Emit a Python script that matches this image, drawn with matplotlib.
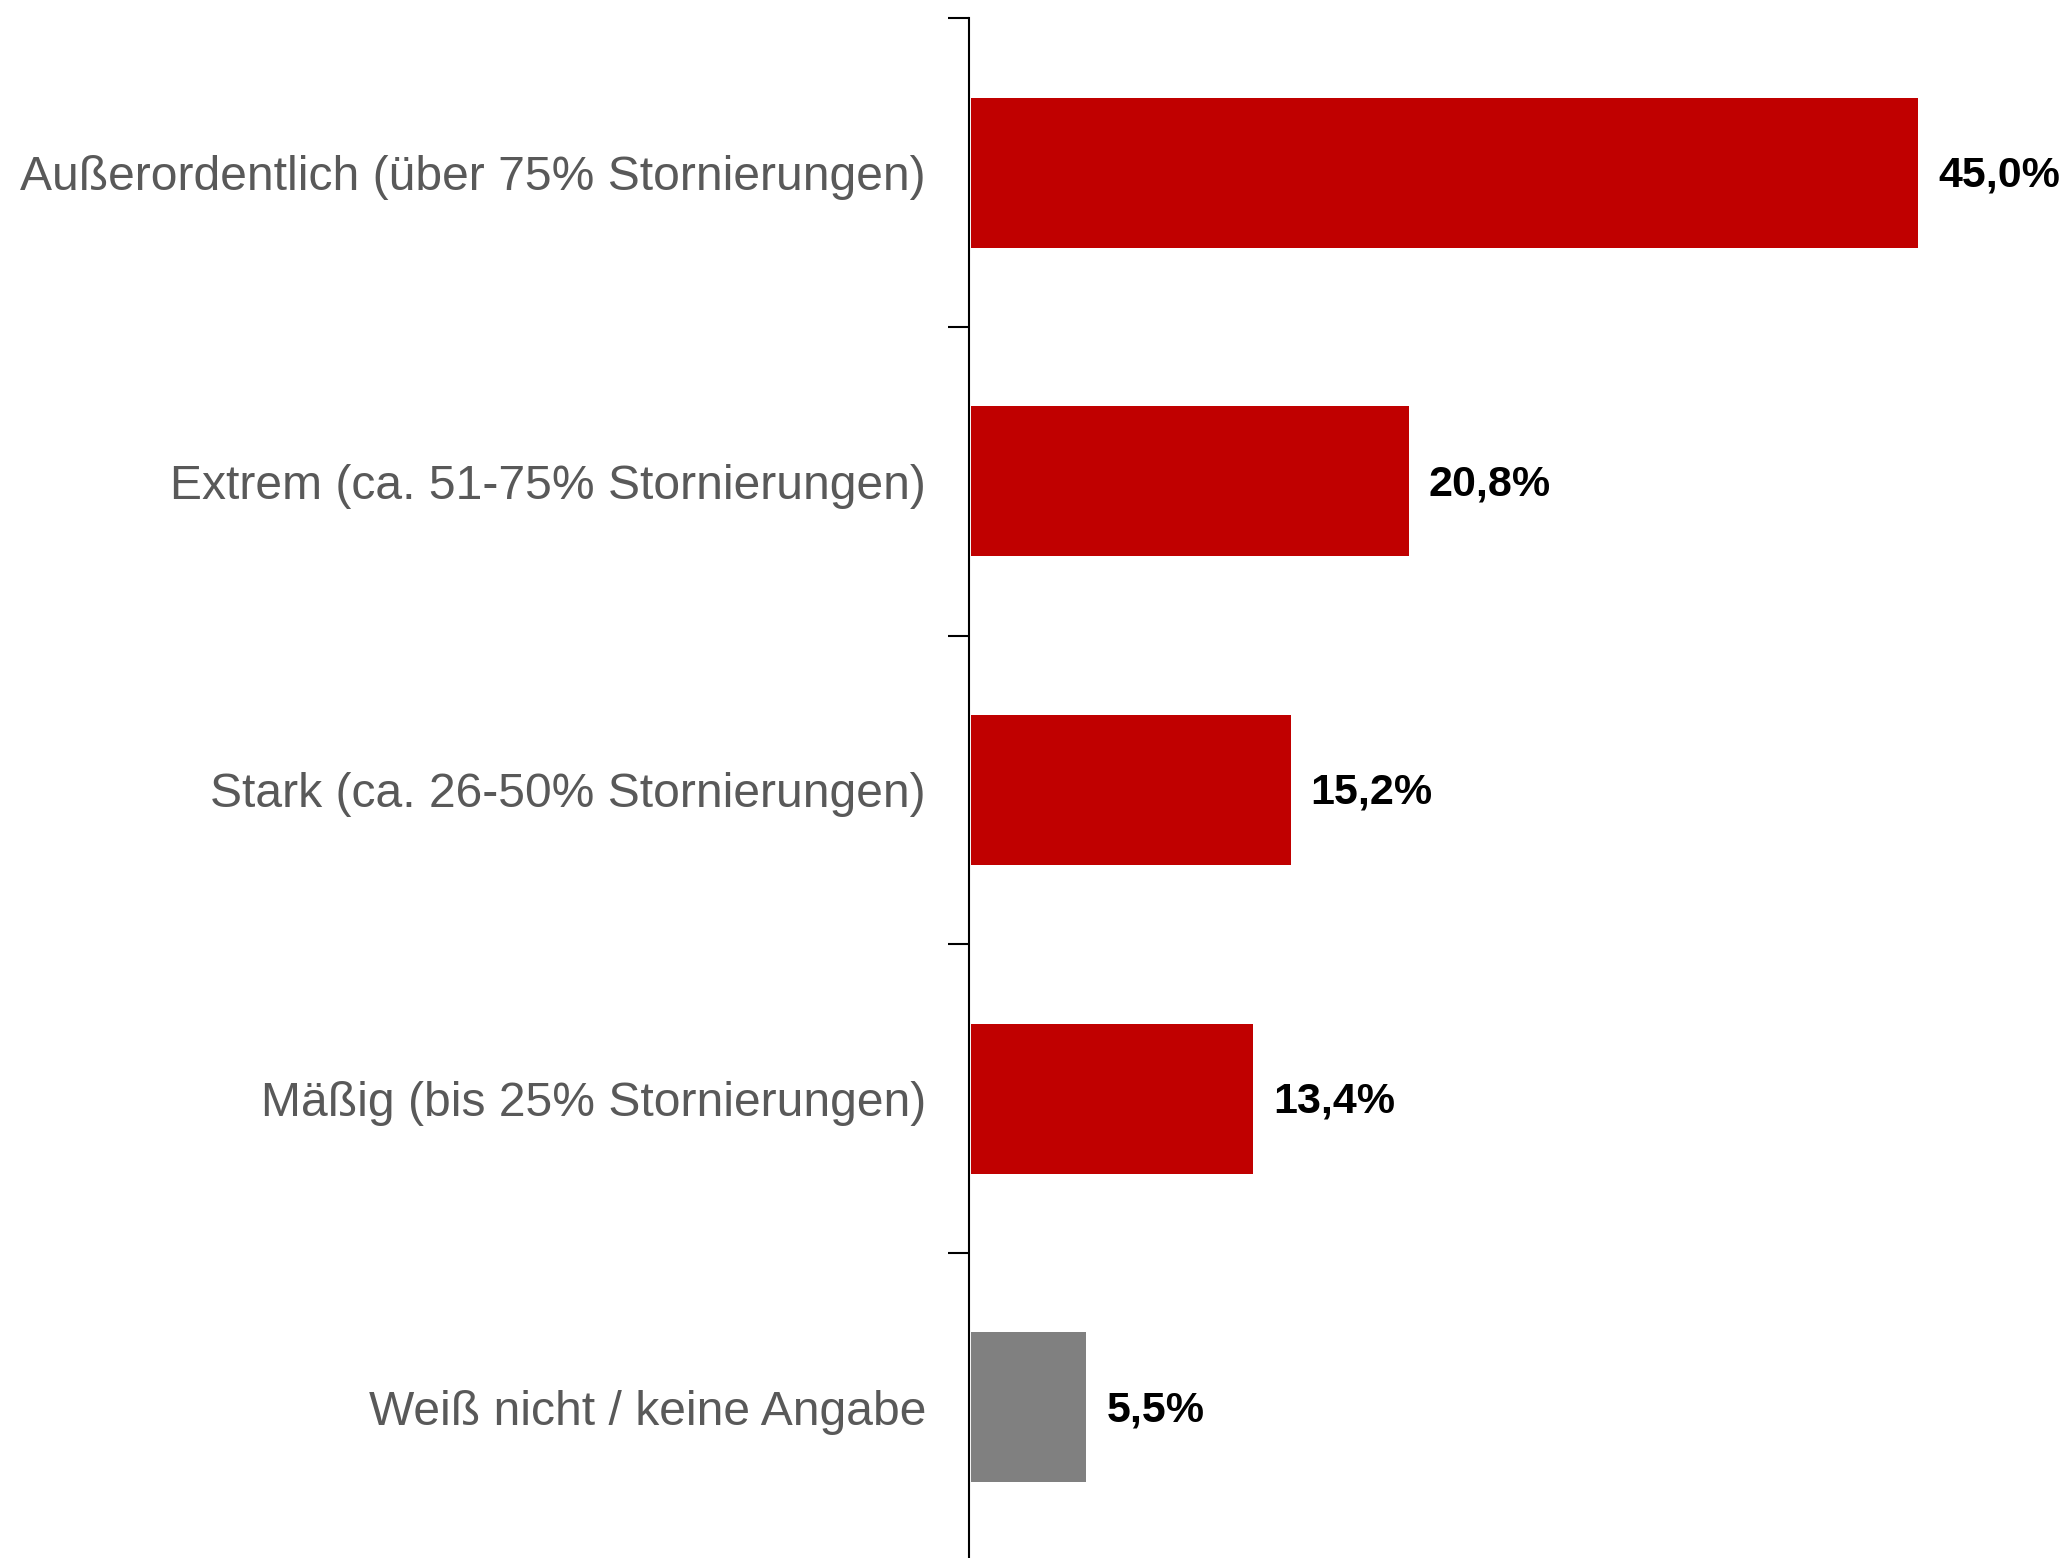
import numpy as np
import matplotlib
matplotlib.use("Agg")
import matplotlib.pyplot as plt

# Data
# ----
categories = ["Außerordentlich (über 75% Stornierungen)",
              "Extrem (ca. 51-75% Stornierungen)",
              "Stark (ca. 26-50% Stornierungen)",
              "Mäßig (bis 25% Stornierungen)",
              "Weiß nicht / keine Angabe"]
values = [45.0, 20.8, 15.2, 13.4, 5.5]
bar_colors = ["#C00000", "#C00000", "#C00000", "#C00000", "#808080"]

plt.rcParams['font.family'] = ['Liberation Sans', 'DejaVu Sans']

fig = plt.figure(figsize=(20.66, 15.58), dpi=100)
ax = fig.add_axes([969/2066, -0.0023, 1 - 969/2066 - 0.0215, 0.9906])

y_pos = np.arange(len(categories))
ax.barh(y_pos, values, height=0.486, color=bar_colors, left=0.08)

for y, v in zip(y_pos, values):
    ax.text(v + 0.08 + 0.95, y + 0.01, '{:.1f}%'.format(v).replace('.', ','),
            ha='left', va='center', fontsize=31, fontweight='bold', color='black')

ax.set_xlim(0, 50)
ax.set_ylim(len(categories) - 0.5, -0.5)

# ticks at category boundaries, labels at centres
ax.set_yticks(np.arange(-0.5, len(categories), 1.0))
ax.set_yticklabels([])
ax.set_yticks(y_pos, minor=True)
ax.set_yticklabels(categories, minor=True, fontsize=34.6, color='#595959')
ax.tick_params(axis='y', which='major', length=15, width=1.5, color='black')
ax.tick_params(axis='y', which='minor', length=0, pad=31)

ax.set_xticks([])
for side in ['top', 'right', 'bottom']:
    ax.spines[side].set_visible(False)
ax.spines['left'].set_linewidth(1.5)
ax.spines['left'].set_color('black')

fig.savefig('out.png', dpi=100, facecolor='w')
